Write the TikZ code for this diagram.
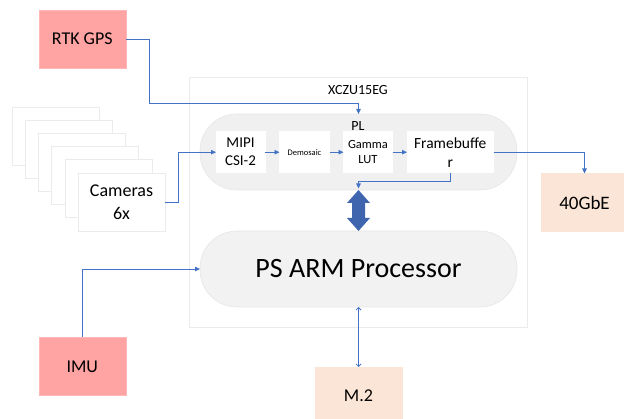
\documentclass[tikz,border=0pt]{standalone}
\usepackage{fontspec}
\setmainfont{Carlito}
\usetikzlibrary{arrows.meta, positioning, calc}

\definecolor{sensorred}{HTML}{FFA3A3}
\definecolor{sensorline}{HTML}{FFB8B8}
\definecolor{storepeach}{HTML}{FBE5D6}
\definecolor{regiongray}{HTML}{F0F0F0}
\definecolor{regionline}{HTML}{E6E6E6}
\definecolor{boxline}{HTML}{EBEBEB}
\definecolor{linkblue}{HTML}{4472C4}
\definecolor{busblue}{HTML}{3F65AE}

\newcommand{\fsize}[2]{\fontsize{#1}{#2}\selectfont}

\begin{document}
\begin{tikzpicture}[x=1pt, y=-1pt,
        box/.style={draw=boxline, line width=0.6pt, fill=white, inner sep=0pt, outer sep=0pt, align=center, minimum width=87pt, minimum height=58pt},
        sensor/.style={box, draw=sensorline, fill=sensorred},
        store/.style={box, draw=storepeach, fill=storepeach},
        stage/.style={box, draw=white, minimum width=49pt, minimum height=41pt},
        region/.style={draw=regionline, line width=0.6pt, fill=regiongray, inner sep=0pt, outer sep=0pt, minimum width=317pt, minimum height=76pt, rounded corners=37pt},
        link/.style={draw=linkblue, line width=0.8pt, -{Triangle[length=5pt,width=4.5pt]}},
        duplex/.style={draw=linkblue, line width=0.8pt, {Straight Barb[length=2.5pt,width=5pt]}-{Straight Barb[length=2.5pt,width=5pt]}}
    ]
        \useasboundingbox (0,0) rectangle (624,419);

        % chip outline
        \node[draw=boxline, line width=0.6pt, minimum width=338pt, minimum height=250pt, inner sep=0pt] (chip) at (358,202) {};
        \node[font=\fsize{14}{16}] (chiplabel) at (358,90) {XCZU15EG};

        % external parts
        \node[sensor, font=\fsize{18}{22}] (gps) at (82.3,39) {RTK GPS};
        \node[sensor, font=\fsize{18}{22}] (imu) at (82.3,366.5) {IMU};
        \node[store, font=\fsize{19}{22}] (net) at (584.5,202.5) {40GbE};
        \node[store, font=\fsize{18}{22}] (ssd) at (358.5,396) {M.2};

        \foreach \i in {0,...,4}
            \node[box] (cam\i) at (55.5+13.2*\i,136+13.2*\i) {};
        \node[box, font=\fsize{18}{23}] (cam5) at (121.5,202) {Cameras\\6x};

        % programmable logic
        \node[region] (pl) at (358.5,152) {};
        \node[stage, font=\fsize{15}{18}] (mipi) at (240.5,152.2) {MIPI\\CSI-2};
        \node[stage, minimum width=50pt, font=\fsize{8.5}{10}, right=14.5pt of mipi] (demosaic) {Demosaic};
        \node[stage, font=\fsize{12.5}{15.5}, right=14pt of demosaic] (gamma) {Gamma\\LUT};
        \node[stage, minimum width=86.5pt, font=\fsize{15.5}{19}, right=14.5pt of gamma] (fb) {Framebuffe\\r};
        \node[font=\fsize{14}{16}] (pllabel) at (358,126) {PL};

        % processing system
        \node[region, fill=regiongray!90!white, font=\fsize{28}{32}] (ps) at (358.5,269) {PS ARM Processor};

        \fill[busblue] (pl.south) -- ++(11.5,13) -- ++(-5,0) -- ++(0,15) -- ++(5,0) -- (ps.north)
            -- ++(-11.5,-13) -- ++(5,0) -- ++(0,-15) -- ++(-5,0) -- cycle;

        \draw[link] (gps.east) -- ++(23.5,0) |- ($(pl.north)+(0,-11)$) -- (pl.north);
        \draw[link] (cam5.east) -- ++(13,0) |- (mipi.west);
        \draw[link] (mipi) -- (demosaic);
        \draw[link] (demosaic) -- (gamma);
        \draw[link] (gamma) -- (fb);
        \draw[link] (fb.east) -| (net.north);
        \draw[link] (fb.south) -- ++(0,8.5) -| ([yshift=1.5pt]pl.south);
        \draw[link] (imu.north) |- (ps.west);
        \draw[duplex] (ps.south) -- (ssd.north);
    \end{tikzpicture}
\end{document}
